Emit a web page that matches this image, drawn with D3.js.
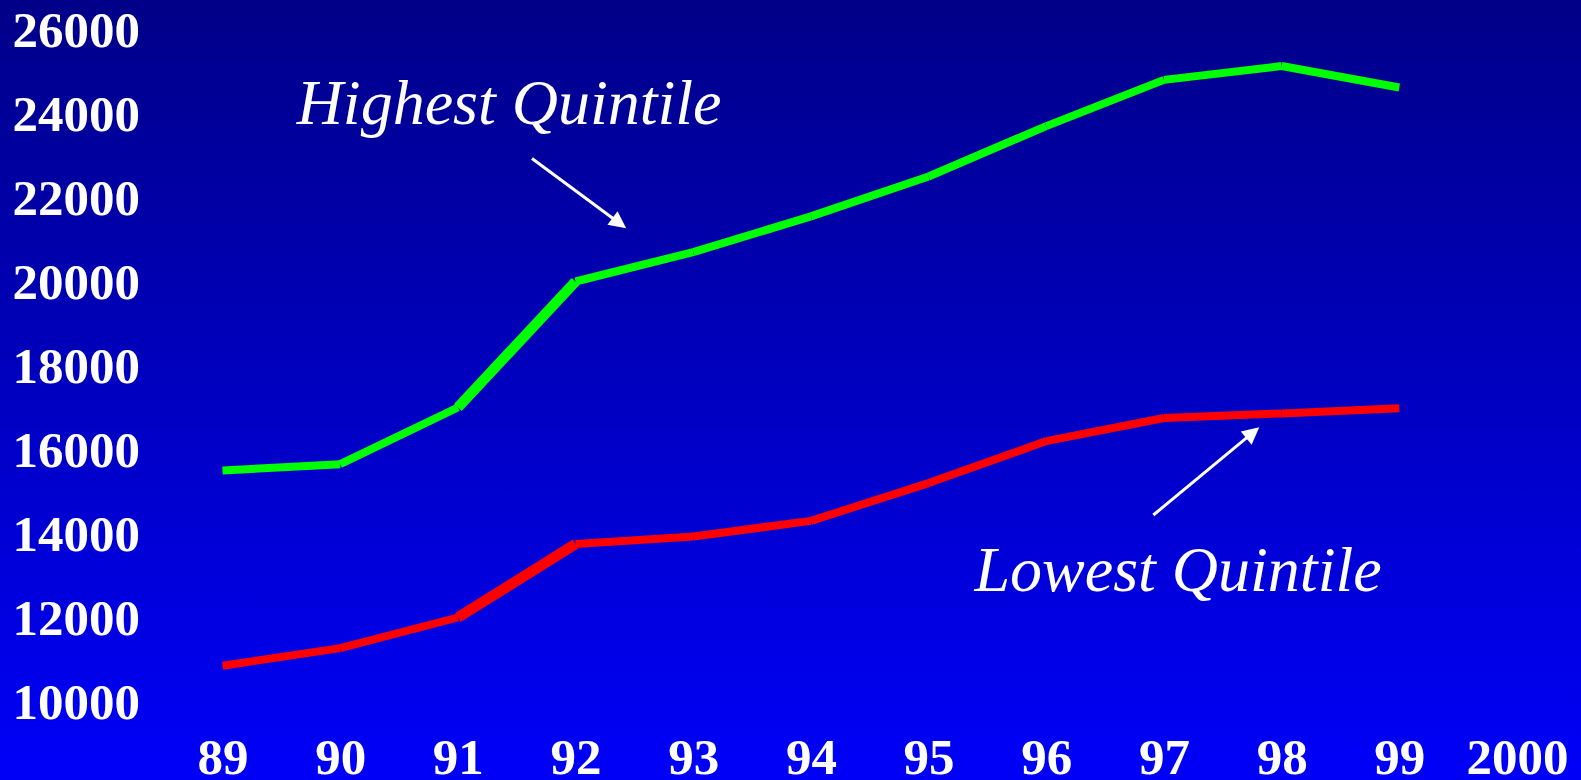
<!DOCTYPE html>
<html>
<head>
<meta charset="utf-8">
<script src="https://cdn.jsdelivr.net/npm/d3@7"></script>
<style>
  html, body { margin: 0; padding: 0; background: #0000c0; overflow: hidden; }
  svg { display: block; }
</style>
</head>
<body>
<svg id="chart" width="1581" height="780"></svg>
<script>
// Income by quintile, 1989–1999
const years = [1989, 1990, 1991, 1992, 1993, 1994, 1995, 1996, 1997, 1998, 1999, 2000];
const yearLabels = ["89", "90", "91", "92", "93", "94", "95", "96", "97", "98", "99", "2000"];
const yTicks = [10000, 12000, 14000, 16000, 18000, 20000, 22000, 24000, 26000];

const dataYears = [1989, 1990, 1991, 1992, 1993, 1994, 1995, 1996, 1997, 1998, 1999];
const highest = [15500, 15650, 17000, 20000, 20700, 21550, 22500, 23700, 24800, 25130, 24620];
const lowest  = [10850, 11270, 12000, 13750, 13930, 14300, 15200, 16200, 16750, 16860, 16980];

// Callouts, placed in data space: [year, value]
const callouts = [
  { text: "Highest Quintile", at: [1989.63, 23750], from: [1991.63, 22930], to: [1992.43, 21270] },
  { text: "Lowest Quintile",  at: [1995.39, 12630], from: [1996.91, 14440], to: [1997.81, 16530] }
];

const W = 1581, H = 780;
const svg = d3.select("#chart");

// Background: dark navy at the top fading to bright blue at the bottom
const defs = svg.append("defs");
const grad = defs.append("linearGradient")
  .attr("id", "bg").attr("x1", 0).attr("y1", 0).attr("x2", 0).attr("y2", 1);
grad.append("stop").attr("offset", "0%").attr("stop-color", "#000088");
grad.append("stop").attr("offset", "100%").attr("stop-color", "#0000f8");
svg.append("rect").attr("width", W).attr("height", H).attr("fill", "url(#bg)");

const x = d3.scaleLinear().domain([1989, 2000]).range([222.5, 1517]);
const y = d3.scaleLinear().domain([10000, 26000]).range([701.5, 29.5]);

const axisFont = "'Liberation Serif', 'Times New Roman', serif";

// Y axis labels (no axis line or tick marks)
const yAxis = d3.axisLeft(y).tickValues(yTicks).tickSize(0).tickPadding(0)
  .tickFormat(d3.format("d"));
const gy = svg.append("g").attr("transform", "translate(140,0)").call(yAxis);
gy.select(".domain").remove();
gy.selectAll("text")
  .attr("x", 0).attr("dy", "0.33em")
  .attr("fill", "#ffffff")
  .style("font-family", axisFont).style("font-weight", "bold").style("font-size", "51px");

// X axis labels
const xAxis = d3.axisBottom(x).tickValues(years).tickSize(0).tickPadding(0)
  .tickFormat((d, i) => yearLabels[i]);
const gx = svg.append("g").attr("transform", "translate(0,774)").call(xAxis);
gx.select(".domain").remove();
gx.selectAll("text")
  .attr("y", 0).attr("dy", 0)
  .attr("fill", "#ffffff")
  .style("font-family", axisFont).style("font-weight", "bold").style("font-size", "51px");

// Series lines, drawn segment by segment
function drawSeries(values, color) {
  const pts = dataYears.map((yr, i) => [x(yr), y(values[i])]);
  const segs = d3.pairs(pts).map((p, i) => ({ p, start: dataYears[i] }));
  svg.append("g").selectAll("line").data(segs).join("line")
    .attr("x1", d => d.p[0][0]).attr("y1", d => d.p[0][1])
    .attr("x2", d => d.p[1][0]).attr("y2", d => d.p[1][1])
    .attr("stroke", color)
    .attr("stroke-width", d => d.start === 1991 ? 10.5 : 8)
    .attr("stroke-linecap", "butt");
}
drawSeries(highest, "#00ff00");
drawSeries(lowest, "#ff0000");

// Callout labels and arrows
const annFont = "'Liberation Serif', 'Times New Roman', serif";
const headLen = 17, headHalf = 8.5;
callouts.forEach(c => {
  svg.append("text")
    .attr("x", x(c.at[0])).attr("y", y(c.at[1]))
    .attr("fill", "#ffffff")
    .style("font-family", annFont).style("font-style", "italic").style("font-size", "64px")
    .text(c.text);

  const x1 = x(c.from[0]), y1 = y(c.from[1]);
  const x2 = x(c.to[0]),   y2 = y(c.to[1]);
  const len = Math.hypot(x2 - x1, y2 - y1);
  const ux = (x2 - x1) / len, uy = (y2 - y1) / len;
  const bx = x2 - ux * headLen, by = y2 - uy * headLen;

  svg.append("line")
    .attr("x1", x1).attr("y1", y1)
    .attr("x2", bx + ux * 2).attr("y2", by + uy * 2)
    .attr("stroke", "#ffffff").attr("stroke-width", 3);
  svg.append("path")
    .attr("d", d3.line()([
      [x2, y2],
      [bx - uy * headHalf, by + ux * headHalf],
      [bx + uy * headHalf, by - ux * headHalf]
    ]) + "Z")
    .attr("fill", "#ffffff");
});
</script>
</body>
</html>
